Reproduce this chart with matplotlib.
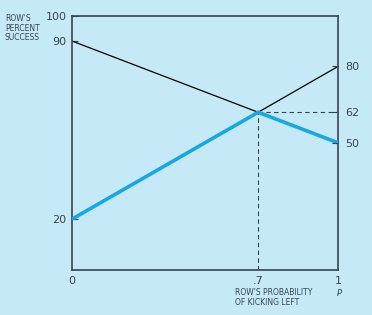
import matplotlib
matplotlib.use("Agg")
import matplotlib.pyplot as plt
import numpy as np

# Data
p_vals = [0.0, 1.0]
line_a = [90, 50]   # row success, line starting at 90
line_b = [20, 80]   # row success, line starting at 20
p_star = 0.7
v_star = 62
left_ticks = [20, 90, 100]
right_ticks = [50, 62, 80]
x_ticks = [0, 0.7, 1]
x_ticklabels = ["0", ".7", "1"]

bg = "#c6e9f8"
blue = "#17a8e3"
dark = "#3a4450"

fig = plt.figure(figsize=(3.72, 3.15), dpi=100, facecolor=bg)
ax = fig.add_axes([0.1935, 0.1429, 0.715, 0.8076], facecolor=bg)
ax.set_xlim(0, 1)
ax.set_ylim(0, 100)

# thin black lines
ax.plot(p_vals, line_a, color="black", lw=0.9, zorder=2)
ax.plot(p_vals, line_b, color="black", lw=0.9, zorder=2)
# blue lower envelope
xs = [0.0, p_star, 1.0]
env = [min(np.interp(x, p_vals, line_a), np.interp(x, p_vals, line_b)) for x in xs]
ax.plot(xs, env, color=blue, lw=2.6, zorder=3, solid_capstyle="butt")

# dashed guides
ax.plot([p_star, p_star], [0, v_star], color=dark, lw=0.8, ls=(0, (4, 3)), zorder=1)
ax.plot([p_star, 1], [v_star, v_star], color=dark, lw=0.8, ls=(0, (4, 3)), zorder=1)

for s in ax.spines.values():
    s.set_color(dark)
    s.set_linewidth(1.2)

ax.set_yticks(left_ticks)
ax.set_yticklabels([str(t) for t in left_ticks])
ax.tick_params(axis="y", direction="in", length=4, color=dark, labelsize=8,
               labelcolor=dark, pad=4)
ax.set_xticks(x_ticks)
ax.set_xticklabels(x_ticklabels)
ax.tick_params(axis="x", length=0, labelsize=8, labelcolor=dark, pad=4)

ax2 = ax.twinx()
ax2.set_ylim(0, 100)
ax2.set_yticks(right_ticks)
ax2.set_yticklabels([str(t) for t in right_ticks])
ax2.tick_params(axis="y", direction="in", length=4, color=dark, labelsize=8,
                labelcolor=dark, pad=5)
for s in ax2.spines.values():
    s.set_visible(False)

fig.text(0.013, 0.955, "ROW'S\nPERCENT\nSUCCESS", fontsize=5.5, color=dark,
         va="top", ha="left", linespacing=1.05)
fig.text(0.632, 0.085, "ROW'S PROBABILITY\nOF KICKING LEFT", fontsize=5.5,
         color=dark, va="top", ha="left", linespacing=1.1)
fig.text(0.905, 0.068, "P", fontsize=6, color=dark, style="italic",
         va="center", ha="left")

fig.savefig("out.png", dpi=100, facecolor=bg)
